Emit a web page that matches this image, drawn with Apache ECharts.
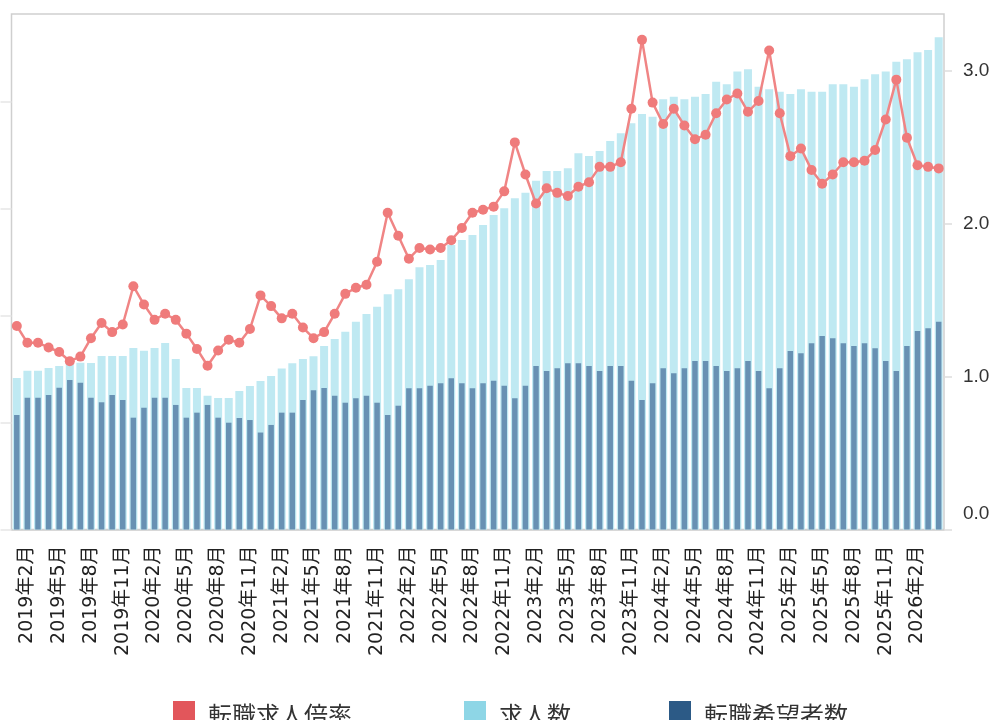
<!DOCTYPE html>
<html><head><meta charset="utf-8">
<script src="https://cdn.jsdelivr.net/npm/echarts@6/dist/echarts.min.js"></script>
<style>html,body{margin:0;padding:0;background:#fff}#c{width:989px;height:720px}</style>
</head><body><div id="c"></div>
<script>
// categories: 2019年1月 .. 2026年4月
const months = [];
for (let y = 2019; y <= 2026; y++) {
  for (let m = 1; m <= 12; m++) {
    if (y === 2026 && m > 4) break;
    months.push(y + '年' + m + '月');
  }
}
// 転職求人倍率 (right axis)
const ratio = [1.33,1.22,1.22,1.19,1.16,1.10,1.13,1.25,1.35,1.29,
  1.34,1.59,1.47,1.37,1.41,1.37,1.28,1.18,1.07,1.17,
  1.24,1.22,1.31,1.53,1.46,1.38,1.41,1.32,1.25,1.29,
  1.41,1.54,1.58,1.60,1.75,2.07,1.92,1.77,1.84,1.83,
  1.84,1.89,1.97,2.07,2.09,2.11,2.21,2.53,2.32,2.13,
  2.23,2.20,2.18,2.24,2.27,2.37,2.37,2.40,2.75,3.20,
  2.79,2.65,2.75,2.64,2.55,2.58,2.72,2.81,2.85,2.73,
  2.80,3.13,2.72,2.44,2.49,2.35,2.26,2.32,2.40,2.40,
  2.41,2.48,2.68,2.94,2.56,2.38,2.37,2.36];
// 求人数 (left axis, index)
const jobs = [141.7,148.6,148.6,151.1,152.9,155.8,156.0,155.8,162.3,162.3,
  162.3,169.8,167.3,169.8,174.5,159.5,132.4,132.4,125.2,123.0,
  123.0,129.6,134.2,138.9,143.6,150.6,155.5,159.5,162.0,171.7,
  178.2,185.0,194.4,201.6,208.4,220.0,224.7,234.1,245.3,247.4,
  252.1,266.1,270.8,275.5,284.8,294.2,300.5,309.8,315.1,326.3,
  335.4,335.4,337.9,351.9,349.4,354.1,363.4,370.6,380.0,388.7,
  386.2,402.4,404.9,402.4,404.9,407.4,418.9,416.6,428.3,430.5,
  414.2,411.8,409.5,407.4,411.8,409.5,409.5,416.5,416.5,414.2,
  421.1,425.8,428.3,437.6,439.9,446.4,448.6,460.4];
// 転職希望者数 (left axis, index)
const seekers = [107.1,123.3,123.3,125.8,132.6,139.9,137.3,123.3,119.0,125.8,
  121.1,104.6,113.9,123.3,123.3,116.5,104.6,109.3,116.5,104.6,
  99.9,104.3,102.4,90.7,97.8,109.3,109.3,121.1,130.2,132.4,
  125.2,118.6,122.7,125.2,118.6,107.1,115.8,132.1,132.1,134.5,
  136.8,141.4,136.8,132.1,136.8,139.2,134.5,122.7,134.5,152.9,
  148.3,150.8,155.5,155.5,152.9,148.3,152.9,152.9,139.2,121.1,
  136.8,150.8,146.1,150.8,157.6,157.6,152.9,148.3,150.8,157.6,
  148.3,132.1,150.8,167.0,164.8,174.2,181.0,178.9,174.2,171.7,
  174.2,169.5,157.6,148.3,171.7,185.7,188.2,194.4];
const rightTicks = [0, 1, 2, 3];
const leftTicks = [0, 100, 200, 300, 400];
const seriesNames = ['転職求人倍率', '求人数', '転職希望者数'];
const legendColors = ['#e2565b', '#8ed6e6', '#2c5a86'];
const legendLeft = [168, 459, 664];

const chart = echarts.init(document.getElementById('c'), null, {renderer: 'canvas'});
const labelFont = "'DejaVu Sans', 'Noto Sans CJK JP', sans-serif";
chart.setOption({
  animation: false,
  backgroundColor: '#ffffff',
  grid: {
    left: 11.5, right: 45, top: 14, bottom: 190.5,
    containLabel: false, outerBoundsMode: 'none',
    show: true, borderColor: '#cfcfcf', borderWidth: 1.5, backgroundColor: 'transparent'
  },
  legend: seriesNames.map((n, k) => ({
    data: [{name: n, itemStyle: {color: legendColors[k]}}],
    left: legendLeft[k], top: 696, icon: 'rect', itemWidth: 22, itemHeight: 28,
    textStyle: {fontSize: 24, color: '#333', fontFamily: "'Noto Sans CJK JP', sans-serif", padding: [0, 0, 0, 8]}
  })),
  xAxis: [{
    type: 'category', data: months, boundaryGap: true,
    axisLine: {show: true, lineStyle: {color: '#cfcfcf', width: 1.5}},
    axisTick: {show: false},
    axisLabel: {
      rotate: 90, interval: (i) => i % 3 === 1, margin: 16,
      fontSize: 19, color: '#222', fontFamily: labelFont, padding: [0, 0, 7, 0]
    },
    splitLine: {show: false}
  }, {
    type: 'category', data: months, show: false
  }],
  yAxis: [{
    type: 'value', position: 'left', min: 0, max: 482.2, interval: 100,
    axisLine: {show: false},
    axisTick: {show: true, length: 11, customValues: leftTicks, lineStyle: {color: '#e6e6e6', width: 1.5}},
    axisLabel: {show: false},
    splitLine: {show: false}
  }, {
    type: 'value', position: 'right', min: 0, max: 3.369, interval: 1,
    axisLine: {show: false},
    axisTick: {show: true, length: 8, customValues: rightTicks, lineStyle: {color: '#dddddd', width: 1.5}},
    axisLabel: {
      customValues: rightTicks, margin: 19, fontSize: 19, color: '#333',
      fontFamily: "'Liberation Sans', Arial, sans-serif",
      formatter: (v) => v === 0 ? '{z|0.0}' : v.toFixed(1),
      rich: {z: {fontSize: 19, color: '#333', fontFamily: "'Liberation Sans', Arial, sans-serif", padding: [0, 0, 32, 0]}}
    },
    splitLine: {show: false}
  }],
  series: [{
    name: '求人数', type: 'bar', xAxisIndex: 0, yAxisIndex: 0, data: jobs,
    barWidth: 8, itemStyle: {color: '#bfe9f2'}, z: 1
  }, {
    name: '転職希望者数', type: 'bar', xAxisIndex: 1, yAxisIndex: 0, data: seekers,
    barWidth: 5.5, itemStyle: {color: '#6891b3'}, z: 2
  }, {
    name: '転職求人倍率', type: 'line', xAxisIndex: 0, yAxisIndex: 1, data: ratio,
    symbol: 'circle', symbolSize: 10, showAllSymbol: true,
    lineStyle: {width: 2.5, color: '#f08585'}, itemStyle: {color: '#ef7b7b'}, z: 3
  }]
});
</script>
</body></html>
